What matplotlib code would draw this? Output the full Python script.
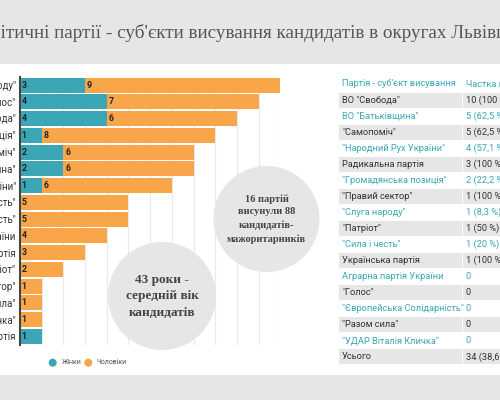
import matplotlib
matplotlib.use("Agg")
import matplotlib.pyplot as plt
from matplotlib import font_manager
from matplotlib.patches import Circle, Rectangle

# chart data (top to bottom)
parties = ['"Слуга народу"', '"Голос"', 'ВО "Свобода"', '"Громадянська позиція"',
           '"Самопоміч"', 'ВО "Батьківщина"', '"Народний Рух України"', '"Сила і честь"',
           '"Європейська Солідарність"', 'Аграрна партія України', 'Радикальна партія',
           '"Патріот"', '"Правий сектор"', '"Разом сила"', '"УДАР Віталія Кличка"',
           'Українська партія']
women = [3, 4, 4, 1, 2, 2, 1, 0, 0, 0, 0, 0, 0, 0, 0, 1]
men = [9, 7, 6, 8, 6, 6, 6, 5, 5, 4, 3, 2, 1, 1, 1, 0]

# table data
table_header = ["Партія - суб'єкт висування", "Частка кандидаток"]
table_parties = ['ВО "Свобода"', 'ВО "Батьківщина"', '"Самопоміч"', '"Народний Рух України"',
                 'Радикальна партія', '"Громадянська позиція"', '"Правий сектор"',
                 '"Слуга народу"', '"Патріот"', '"Сила і честь"', 'Українська партія',
                 'Аграрна партія України', '"Голос"', '"Європейська Солідарність"',
                 '"Разом сила"', '"УДАР Віталія Кличка"', 'Усього']
table_shares = ['10 (100 %)', '5 (62,5 %)', '5 (62,5 %)', '4 (57,1 %)', '3 (100 %)',
                '2 (22,2 %)', '1 (100 %)', '1 (8,3 %)', '1 (50 %)', '1 (20 %)', '1 (100 %)',
                '0', '0', '0', '0', '0', '34 (38,6 %)']

title = "Політичні партії - суб'єкти висування кандидатів в округах Львівщини"
note_age = "43 роки -\nсередній вік\nкандидатів"
note_count = "16 партій\nвисунули 88\nкандидатів-\nмажоритарників"

TEAL = "#3ba6b6"
ORANGE = "#f9a64b"
LIGHT = "#e6e6e6"

names = {f.name for f in font_manager.fontManager.ttflist}
narrow = "Liberation Sans Narrow" if "Liberation Sans Narrow" in names else "Roboto"
serif = "Liberation Serif"
TFS = 6.7  # table font size

fig = plt.figure(figsize=(5, 4), dpi=100)
fig.patch.set_facecolor("white")

# background in pixel coords
bg = fig.add_axes([0, 0, 1, 1], zorder=0)
bg.set_xlim(0, 500)
bg.set_ylim(400, 0)
bg.axis("off")
bg.add_patch(Rectangle((0, 0), 500, 64, color=LIGHT, lw=0))
bg.add_patch(Rectangle((0, 375), 500, 25, color=LIGHT, lw=0))

# bar chart
ax = fig.add_axes([20 / 500, (400 - 344.7) / 400, 260.4 / 500, 268 / 400], zorder=1)
ax.set_facecolor("none")
y = list(range(len(parties)))
ax.barh(y, women, height=0.9, color=TEAL, lw=0, zorder=2)
ax.barh(y, men, left=women, height=0.9, color=ORANGE, lw=0, zorder=2)
for i in y:
    if women[i]:
        ax.text(0.08, i, str(women[i]), va="center", ha="left", fontsize=6.3,
                fontweight="bold", color="#222", family=narrow, zorder=3)
    if men[i]:
        ax.text(women[i] + 0.08, i, str(men[i]), va="center", ha="left", fontsize=6.3,
                fontweight="bold", color="#222", family=narrow, zorder=3)
ax.set_xlim(0, 12)
ax.set_ylim(15.5, -0.5)
ax.set_xticks(range(1, 13))
ax.set_xticklabels([])
ax.tick_params(axis="x", length=0)
ax.grid(axis="x", color="#e9e9e9", lw=0.8, zorder=0)
ax.set_yticks(y)
ax.set_yticklabels(parties, fontsize=7, color="#333", family=narrow)
ax.tick_params(axis="y", length=0, pad=3)
for s in ["top", "right", "bottom"]:
    ax.spines[s].set_visible(False)
ax.spines["left"].set_color("#444")
ax.spines["left"].set_linewidth(1.5)

# overlay: title, circles, legend, table
ov = fig.add_axes([0, 0, 1, 1], zorder=2)
ov.set_xlim(0, 500)
ov.set_ylim(400, 0)
ov.axis("off")
ov.patch.set_alpha(0)

renderer = fig.canvas.get_renderer()
probe = ov.text(0, 0, "Пол", fontsize=13.8, family=serif)
cut = probe.get_window_extent(renderer).width
probe.remove()
ov.text(1 - cut, 33, title, fontsize=13.8, family=serif, color="#555", va="center", ha="left")

ov.add_patch(Circle((266.5, 219), 53, color=LIGHT, lw=0))
ov.text(266.5, 219, note_count, ha="center", va="center", fontsize=7.5, family=serif,
        fontweight="bold", color="#444", linespacing=1.55)
ov.add_patch(Circle((162, 296), 54, color=LIGHT, lw=0))
ov.text(162, 296, note_age, ha="center", va="center", fontsize=9.5, family=serif,
        fontweight="bold", color="#444", linespacing=1.5)

# legend
ov.add_patch(Circle((52.7, 362.7), 4, color=TEAL, lw=0))
ov.text(61.5, 362.7, "Жінки", fontsize=5, color="#555", va="center", family=narrow)
ov.add_patch(Circle((88.3, 362.7), 4, color=ORANGE, lw=0))
ov.text(96.5, 362.7, "Чоловіки", fontsize=5, color="#555", va="center", family=narrow)

# table
ov.text(342, 84, table_header[0], fontsize=TFS, color=TEAL, va="center", family=narrow)
ov.text(466, 84, table_header[1], fontsize=TFS, color=TEAL, va="center", family=narrow)
for i, (p, s) in enumerate(zip(table_parties, table_shares)):
    cy = 100 + 16.05 * i
    if i % 2 == 0:
        ov.add_patch(Rectangle((339, cy - 7.5), 122.5, 15, color=LIGHT, lw=0))
        ov.add_patch(Rectangle((462.5, cy - 7.5), 40, 15, color=LIGHT, lw=0))
        col = "#333"
    else:
        col = TEAL
    ov.text(342, cy, p, fontsize=TFS, color=col, va="center", family=narrow)
    ov.text(466, cy, s, fontsize=TFS, color=col, va="center", family=narrow)

fig.savefig("out.png", dpi=100)
